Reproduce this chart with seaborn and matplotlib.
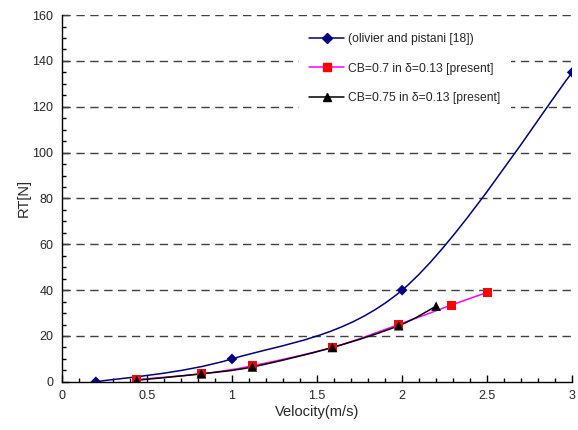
import numpy as np
import pandas as pd
import matplotlib
matplotlib.use('Agg')
import matplotlib.pyplot as plt
import seaborn as sns
from matplotlib.path import Path
from matplotlib.patches import PathPatch
from matplotlib.lines import Line2D
from matplotlib.ticker import MultipleLocator

# data
v_olivier = [0.2, 1.0, 2.0, 3.0]
rt_olivier = [0.0, 10.0, 40.0, 135.0]

v_cb70 = [0.44, 0.82, 1.12, 1.59, 1.98, 2.29, 2.5]
rt_cb70 = [1.0, 3.5, 7.0, 15.0, 25.0, 33.5, 39.0]

v_cb75 = [0.44, 0.82, 1.12, 1.59, 1.98, 2.2]
rt_cb75 = [0.7, 3.5, 6.5, 15.0, 24.5, 33.0]

labels = ['(olivier and pistani [18])',
          'CB=0.7 in \u03b4=0.13 [present]',
          'CB=0.75 in \u03b4=0.13 [present]']

sns.set_style('white')
plt.rcParams['font.family'] = ['Liberation Sans', 'DejaVu Sans']


def smooth_path(x, y):
    # excel-like smoothed line: cubic bezier segments through the points
    p = np.column_stack([x, y])
    ext = np.vstack([p[0], p, p[-1]])
    verts = [p[0]]
    codes = [Path.MOVETO]
    for i in range(len(p) - 1):
        p0, p1, p2, p3 = ext[i], ext[i + 1], ext[i + 2], ext[i + 3]
        verts += [p1 + (p2 - p0) / 6, p2 - (p3 - p1) / 6, p2]
        codes += [Path.CURVE4] * 3
    return Path(verts, codes)


fig = plt.figure(figsize=(5.78, 4.30), dpi=100)
ax = fig.add_axes([0.107, 0.112, 0.883, 0.853])

series = [
    (v_olivier, rt_olivier, '#000080', '#000080', 'D', 30, 5),
    (v_cb70, rt_cb70, '#FF00FF', '#FF0000', 's', 42, 6),
    (v_cb75, rt_cb75, 'black', 'black', '^', 48, 6),
]

handles = []
for (vx, ry, lc, mc, mk, ms, lms), lab in zip(series, labels):
    ax.add_patch(PathPatch(smooth_path(vx, ry), facecolor='none',
                           edgecolor=lc, lw=1.1, zorder=3))
    df = pd.DataFrame({'v': vx, 'rt': ry})
    sns.scatterplot(data=df, x='v', y='rt', marker=mk, s=ms, color=mc,
                    edgecolor='none', ax=ax, zorder=4)
    handles.append(Line2D([], [], color=lc, lw=1.1, marker=mk,
                          markerfacecolor=mc, markeredgecolor=mc,
                          markersize=lms))

ax.set_xlim(0, 3)
ax.set_ylim(0, 160)
ax.xaxis.set_major_locator(MultipleLocator(0.5))
ax.xaxis.set_minor_locator(MultipleLocator(0.1))
ax.yaxis.set_major_locator(MultipleLocator(20))
ax.yaxis.set_minor_locator(MultipleLocator(5))
ax.set_xticks([0, 0.5, 1, 1.5, 2, 2.5, 3])
ax.set_xticklabels(['0', '0.5', '1', '1.5', '2', '2.5', '3'])

for yv in range(20, 161, 20):
    ax.axhline(yv, color='#404040', lw=1.0, ls=(0, (6, 4)), zorder=1)

for s in ['top', 'right']:
    ax.spines[s].set_visible(False)
for s in ['left', 'bottom']:
    ax.spines[s].set_color('black')
    ax.spines[s].set_linewidth(1.0)

ax.tick_params(which='major', direction='in', length=5, width=1,
               labelsize=9, color='black', left=True, bottom=True, pad=6)
ax.tick_params(which='minor', direction='in', length=3, width=1,
               color='black', left=True, bottom=True)

ax.set_xlabel('Velocity(m/s)', fontsize=10.5, labelpad=2)
ax.set_ylabel('RT[N]', fontsize=10.5, labelpad=1)

leg = ax.legend(handles, labels, loc='upper left',
                bbox_to_anchor=(0.452, 0.997), frameon=True,
                facecolor='white', edgecolor='none', framealpha=1,
                fancybox=False, fontsize=8.7, handlelength=2.9,
                labelspacing=1.45, handletextpad=0.3, borderpad=0.9)
leg.set_zorder(5)

fig.savefig('out.png', dpi=100)
